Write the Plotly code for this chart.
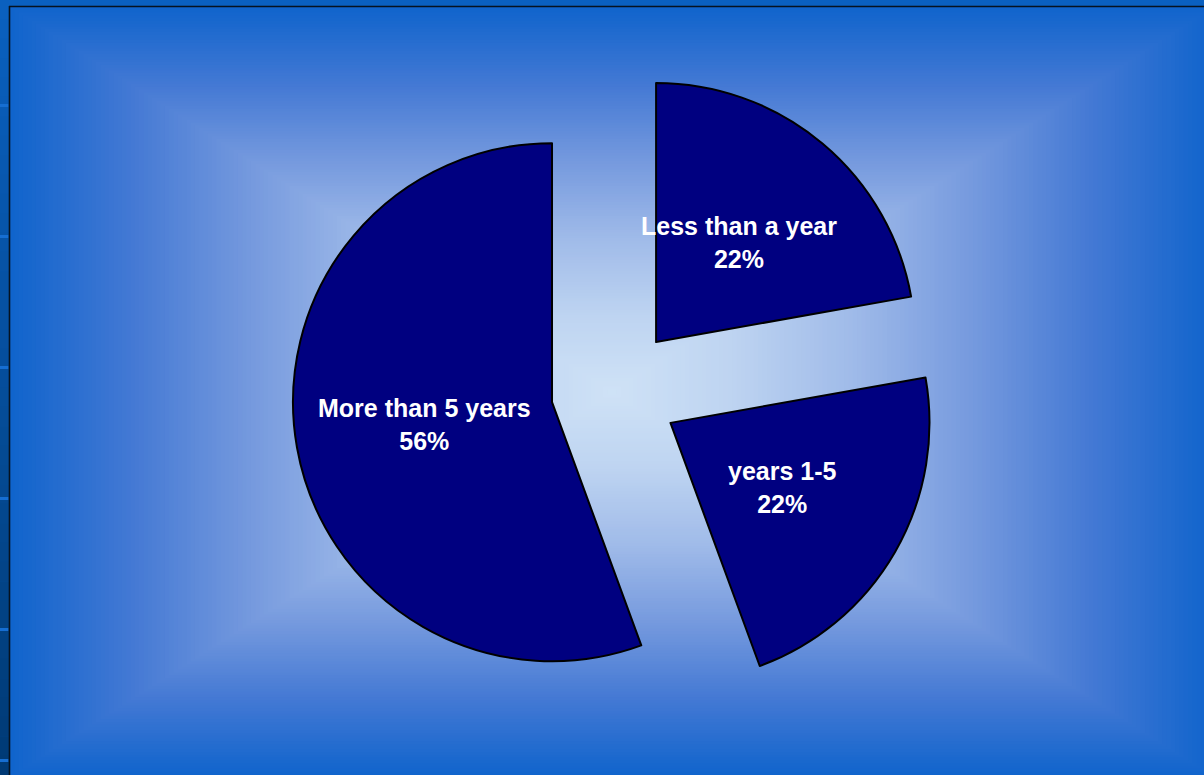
import math
import plotly.graph_objects as go

# ---------------- data ----------------
labels = ["Less than a year", "years 1-5", "More than 5 years"]
values = [22.2, 22.2, 55.6]
pull_frac = [0.247, 0.247, 0.247]

# ---------------- layout constants ----------------
W, H = 1204, 775
PIE_CX, PIE_CY = 615, 391        # pie centre (px)
PIE_HALF = 323                   # half size of the pie domain box (px)
SLICE_COLOR = "#000080"
LABEL_FONT = dict(family="Liberation Sans, Arial, sans-serif", size=25, color="white", weight="bold")


def px_x(px):
    return px / W


def px_y(py):
    return 1 - py / H


# ---------------- background gradient (rectangular, light centre) ----------------
GC_X, GC_Y = 612, 392            # gradient centre
G_HW, G_HH = 602, 385            # gradient half extents
stops = [
    (0.00, (207, 226, 246)),
    (0.20, (190, 212, 241)),
    (0.40, (160, 187, 233)),
    (0.60, (118, 154, 222)),
    (0.80, (68, 121, 212)),
    (1.00, (16, 100, 204)),
]


def grad_color(t):
    for (t0, c0), (t1, c1) in zip(stops[:-1], stops[1:]):
        if t <= t1:
            f = (t - t0) / (t1 - t0)
            c = [round(a + (b - a) * f) for a, b in zip(c0, c1)]
            return "rgb(%d,%d,%d)" % tuple(c)
    return "rgb(%d,%d,%d)" % stops[-1][1]


shapes = []
N = 140
for i in range(N, 0, -1):
    t = i / N
    hw, hh = t * G_HW, t * G_HH
    shapes.append(dict(
        type="rect", xref="paper", yref="paper", layer="below",
        x0=px_x(GC_X - hw), x1=px_x(GC_X + hw),
        y0=px_y(GC_Y + hh), y1=px_y(GC_Y - hh),
        fillcolor=grad_color(t), line=dict(width=0),
    ))

# left strip of the slide (dark vertical gradient)
STRIP = 9
nb = 40
c_top, c_bot = (10, 96, 192), (0, 58, 116)
for i in range(nb):
    f = (i + 0.5) / nb
    c = tuple(round(a + (b - a) * f) for a, b in zip(c_top, c_bot))
    shapes.append(dict(
        type="rect", xref="paper", yref="paper", layer="below",
        x0=px_x(0), x1=px_x(STRIP),
        y0=px_y(H * (i + 1) / nb + 0.5), y1=px_y(H * i / nb),
        fillcolor="rgb(%d,%d,%d)" % c, line=dict(width=0),
    ))
# top strip
shapes.append(dict(type="rect", xref="paper", yref="paper", layer="below",
                   x0=px_x(STRIP), x1=px_x(W), y0=px_y(6), y1=px_y(0),
                   fillcolor="rgb(10,96,192)", line=dict(width=0)))
# small light marks in the left strip
for my in [105, 236, 367, 498, 629, 760]:
    shapes.append(dict(type="rect", xref="paper", yref="paper", layer="below",
                       x0=px_x(0), x1=px_x(STRIP - 0.5), y0=px_y(my + 2), y1=px_y(my - 1),
                       fillcolor="rgb(22,110,210)", line=dict(width=0)))
# black frame lines
shapes.append(dict(type="line", xref="paper", yref="paper", layer="below",
                   x0=px_x(9.5), x1=px_x(9.5), y0=px_y(6), y1=px_y(H),
                   line=dict(color="#06121f", width=1.6)))
shapes.append(dict(type="line", xref="paper", yref="paper", layer="below",
                   x0=px_x(9), x1=px_x(W), y0=px_y(6.5), y1=px_y(6.5),
                   line=dict(color="#06121f", width=1.6)))

# ---------------- pie ----------------
fig = go.Figure()
fig.add_trace(go.Pie(
    labels=labels, values=values, pull=pull_frac,
    sort=False, direction="clockwise", rotation=0,
    marker=dict(colors=[SLICE_COLOR] * len(values), line=dict(color="black", width=2)),
    textinfo="none", hoverinfo="label+percent",
    domain=dict(x=[px_x(PIE_CX - PIE_HALF), px_x(PIE_CX + PIE_HALF)],
                y=[px_y(PIE_CY + PIE_HALF), px_y(PIE_CY - PIE_HALF)]),
    showlegend=False,
))

# ---------------- data labels (at half radius on each slice bisector) ----------------
total = sum(values)
maxpull = max(pull_frac)
R = PIE_HALF / (1 + maxpull)
annotations = []
cum = 0
for lab, v, p in zip(labels, values, pull_frac):
    mid = 2 * math.pi * (cum + v / 2) / total
    cum += v
    d = (p + 0.5) * R
    x = PIE_CX + d * math.sin(mid)
    y = PIE_CY - d * math.cos(mid)
    pct = round(100 * v / total)
    annotations.append(dict(
        x=px_x(x), y=px_y(y), xref="paper", yref="paper",
        xanchor="center", yanchor="middle", showarrow=False,
        text=f"{lab}<br>{pct}%", font=LABEL_FONT, align="center",
    ))

fig.update_layout(
    width=W, height=H, margin=dict(l=0, r=0, t=0, b=0),
    paper_bgcolor="rgb(10,96,192)", plot_bgcolor="rgba(0,0,0,0)",
    shapes=shapes, annotations=annotations,
)

fig.write_html(
    "out.html",
    config={"displayModeBar": False},
    post_script="document.body.style.margin='0px';document.body.style.overflow='hidden';",
)
